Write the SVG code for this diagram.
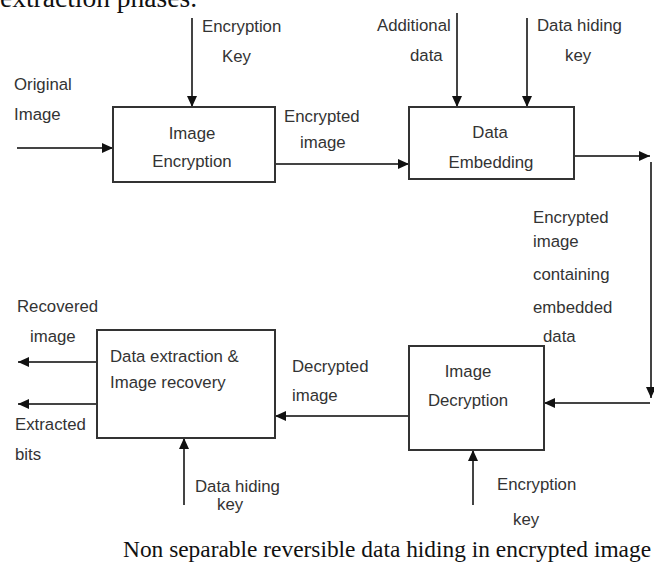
<svg xmlns="http://www.w3.org/2000/svg" width="654" height="572" viewBox="0 0 654 572">
<defs>
<marker id="ah" markerUnits="userSpaceOnUse" markerWidth="12" markerHeight="10" refX="11" refY="5" orient="auto">
<path d="M0,0 L11,5 L0,10 Z" fill="#111"/>
</marker>
<style>
.box{fill:#fff;stroke:#333;stroke-width:2}
.ln{fill:none;stroke:#444;stroke-width:2;marker-end:url(#ah)}
.t{font-family:"Liberation Sans",Arial,sans-serif;font-size:16.8px;fill:#333}
.c{text-anchor:middle}
.serif{font-family:"Liberation Serif","Times New Roman",serif;fill:#111}
</style>
</defs>
<rect width="654" height="572" fill="#fff"/>
<text class="serif" x="0" y="7" font-size="27.5">extraction phases.</text>

<g id="connectors">
<line class="ln" x1="17" y1="148" x2="113" y2="148"/>
<line class="ln" x1="192" y1="18" x2="192" y2="107"/>
<line class="ln" x1="275" y1="164" x2="409" y2="164"/>
<line class="ln" x1="457" y1="13" x2="457" y2="107"/>
<line class="ln" x1="527" y1="18" x2="527" y2="107"/>
<line class="ln" x1="574" y1="156" x2="650" y2="156"/>
<line class="ln" x1="651" y1="162" x2="651" y2="398"/>
<line class="ln" x1="650" y1="403" x2="544" y2="403"/>
<line class="ln" x1="409" y1="416" x2="275" y2="416"/>
<line class="ln" x1="473" y1="505" x2="473" y2="450"/>
<line class="ln" x1="184" y1="505" x2="184" y2="438"/>
<line class="ln" x1="97" y1="362" x2="18" y2="362"/>
<line class="ln" x1="97" y1="404" x2="18" y2="404"/>
</g>

<g id="image-encryption">
<rect class="box" x="113" y="107" width="162" height="75"/>
<text class="t c" x="192" y="139">Image</text>
<text class="t c" x="192" y="167">Encryption</text>
</g>
<g id="data-embedding">
<rect class="box" x="409" y="107" width="165" height="72"/>
<text class="t c" x="490" y="138">Data</text>
<text class="t c" x="491" y="168">Embedding</text>
</g>
<g id="image-decryption">
<rect class="box" x="409" y="346" width="135" height="104"/>
<text class="t c" x="468" y="377">Image</text>
<text class="t c" x="468" y="406">Decryption</text>
</g>
<g id="data-extraction">
<rect class="box" x="97" y="330" width="178" height="108"/>
<text class="t" x="110" y="362">Data extraction &amp;</text>
<text class="t" x="110" y="388">Image recovery</text>
</g>

<g id="labels">
<text class="t" x="14" y="90">Original</text>
<text class="t" x="14" y="120">Image</text>
<text class="t" x="202" y="32">Encryption</text>
<text class="t" x="222" y="62">Key</text>
<text class="t" x="284" y="122">Encrypted</text>
<text class="t" x="300" y="148">image</text>
<text class="t" x="377" y="31">Additional</text>
<text class="t" x="410" y="61">data</text>
<text class="t" x="537" y="31">Data hiding</text>
<text class="t" x="565" y="61">key</text>
<text class="t" x="533" y="223">Encrypted</text>
<text class="t" x="533" y="247">image</text>
<text class="t" x="533" y="280">containing</text>
<text class="t" x="533" y="313">embedded</text>
<text class="t" x="543" y="342">data</text>
<text class="t" x="292" y="372">Decrypted</text>
<text class="t" x="292" y="401">image</text>
<text class="t" x="17" y="312">Recovered</text>
<text class="t" x="30" y="342">image</text>
<text class="t" x="15" y="430">Extracted</text>
<text class="t" x="15" y="460">bits</text>
<text class="t" x="195" y="492">Data hiding</text>
<text class="t" x="217" y="510">key</text>
<text class="t" x="497" y="490">Encryption</text>
<text class="t" x="513" y="525">key</text>
</g>

<text class="serif" x="123" y="557" font-size="23.4">Non separable reversible data hiding in encrypted image</text>
</svg>
